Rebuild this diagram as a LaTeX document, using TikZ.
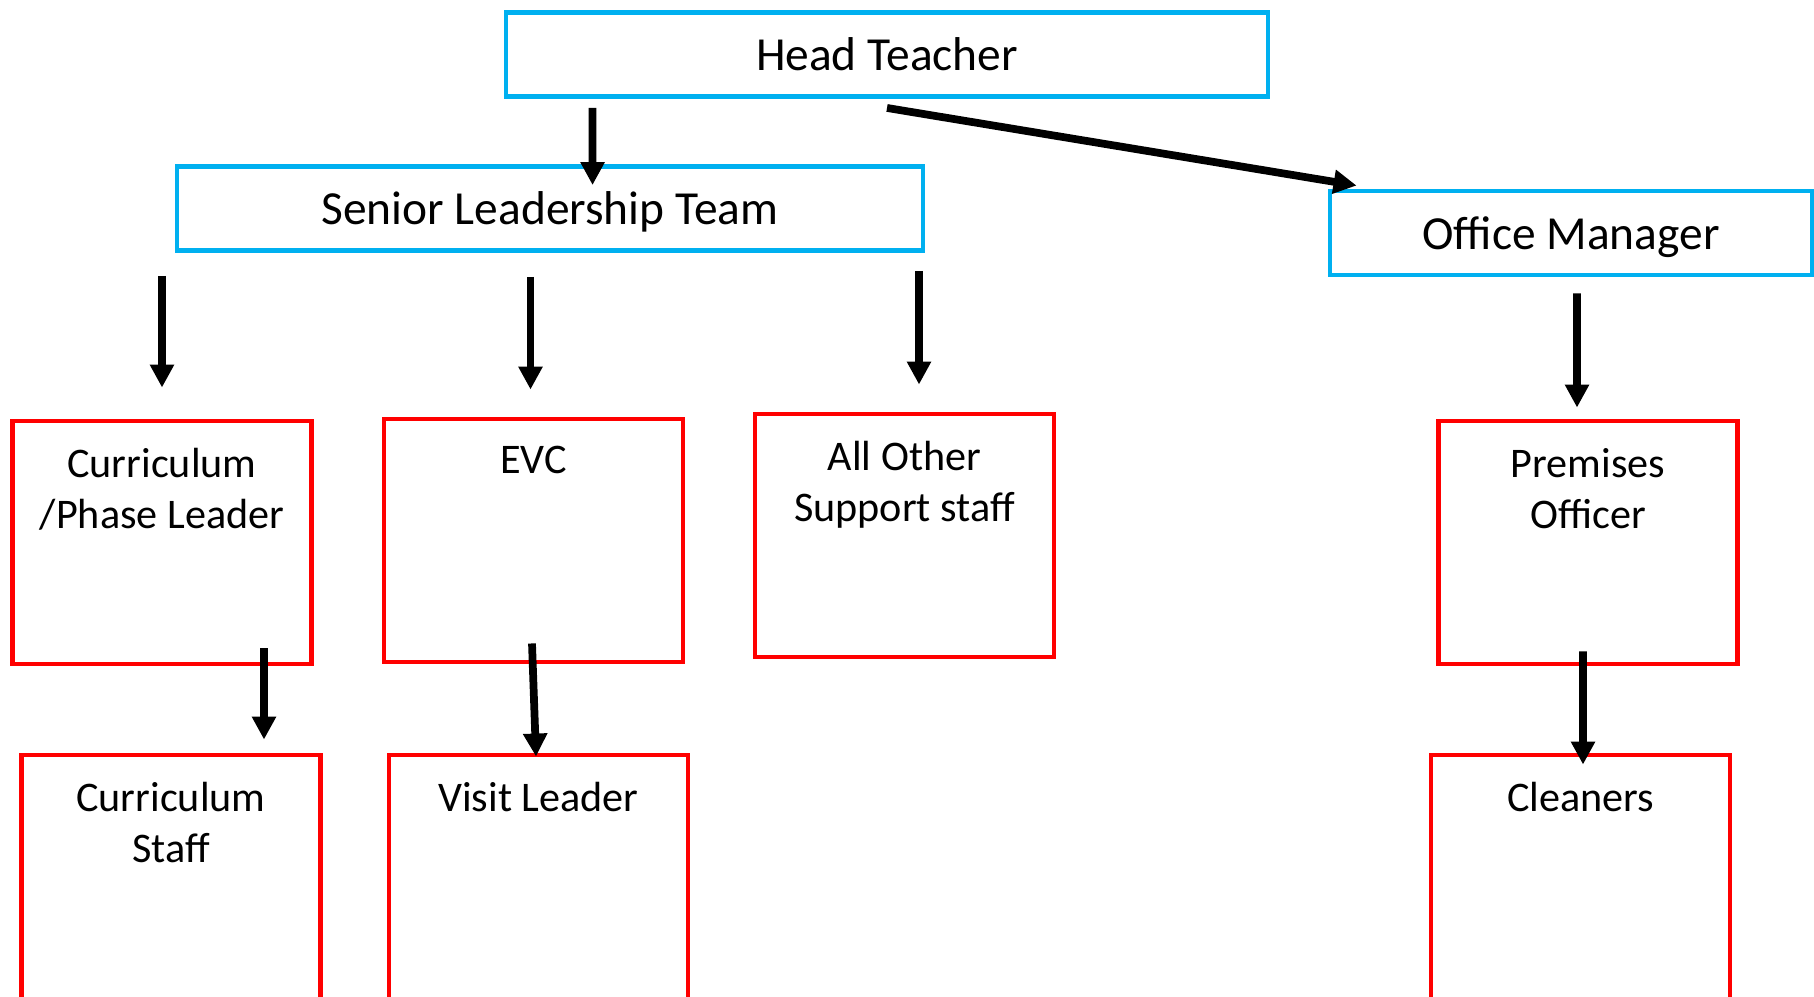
\documentclass[tikz,border=0pt]{standalone}
\usepackage{fontspec}
\setmainfont{Carlito}
\usetikzlibrary{calc, positioning}
\usetikzlibrary{arrows.meta}
\definecolor{myblue}{HTML}{00B0F0}
\definecolor{myred}{HTML}{FF0000}
\tikzset{
  bluebox/.style={draw=myblue, line width=1.4pt, minimum height=0.84cm, inner sep=0pt, text depth=0pt, font=\fontsize{13.5}{16}\selectfont},
  redbox/.style={draw=myred, line width=1.4pt, minimum width=2.99cm, minimum height=2.43cm, inner sep=0pt},
  boxtext/.style={align=center, inner sep=0pt, font=\fontsize{12}{14.5}\selectfont},
  arr/.style={-{Triangle[length=0.23cm,width=0.23cm]}, line width=2.2pt},
}

\begin{document}
\begin{tikzpicture}
			\useasboundingbox (0,0) rectangle (18.14,-9.96);
			\clip (0,0) rectangle (18.14,-9.96);
			% top row
			\node[bluebox, minimum width=7.62cm] (head) at (8.87,-0.545) {Head Teacher};
			\node[bluebox, minimum width=7.46cm] (slt) at (5.50,-2.085) {Senior Leadership Team};
			\node[bluebox, minimum width=4.82cm] (om) at (15.71,-2.33) {Office Manager};
			% middle row
			\node[redbox] (cpl) at (1.62,-5.425) {};
			\node[redbox] (evc) at (5.335,-5.405) {};
			\node[redbox] (aos) at (9.045,-5.355) {};
			\node[redbox] (po) at (15.88,-5.425) {};
			\node[boxtext, below=0.29cm of cpl.north] (cplt) {Curriculum\\/Phase Leader};
			\node[boxtext, below=0.29cm of evc.north] (evct) {EVC};
			\node[boxtext, below=0.29cm of aos.north] (aost) {All Other\\Support staff};
			\node[boxtext, below=0.29cm of po.north] (pot) {Premises\\Officer};
			% bottom row
			\node[redbox, minimum height=2.6cm] (cs) at (1.71,-8.85) {};
			\node[redbox, minimum height=2.6cm] (vl) at (5.385,-8.85) {};
			\node[redbox, minimum height=2.6cm] (cl) at (15.805,-8.85) {};
			\node[boxtext, below=0.29cm of cs.north] (cst) {Curriculum\\Staff};
			\node[boxtext, below=0.29cm of vl.north] (vlt) {Visit Leader};
			\node[boxtext, below=0.29cm of cl.north] (clt) {Cleaners};
			% arrows
			\draw[arr] ($(head.south west)+(0.89,-0.09)$) -- ($(slt.north west)+(4.18,-0.21)$);
			\draw[arr] ($(head.south)+(0,-0.09)$) -- ($(om.north west)+(0.29,0.03)$);
			\draw[arr] ($(slt.south -| cpl.north)+(0,-0.23)$) -- ($(cpl.north)+(0,0.31)$);
			\draw[arr] ($(slt.south -| evc.north)+(-0.03,-0.24)$) -- ($(evc.north)+(-0.03,0.27)$);
			\draw[arr] ($(slt.south -| aos.north)+(0.145,-0.18)$) -- ($(aos.north)+(0.145,0.27)$);
			\draw[arr] ($(om.south)+(0.06,-0.16)$) -- ($(po.north)+(-0.11,0.11)$);
			\draw[arr] ($(cpl.south)+(1.02,0.18)$) -- ($(cs.north)+(0.93,0.13)$);
			\draw[arr] ($(evc.south)+(-0.015,0.21)$) -- ($(vl.north)+(-0.025,-0.04)$);
			\draw[arr] ($(po.south)+(-0.05,0.15)$) -- ($(cl.north)+(0.025,-0.12)$);
		\end{tikzpicture}
\end{document}
